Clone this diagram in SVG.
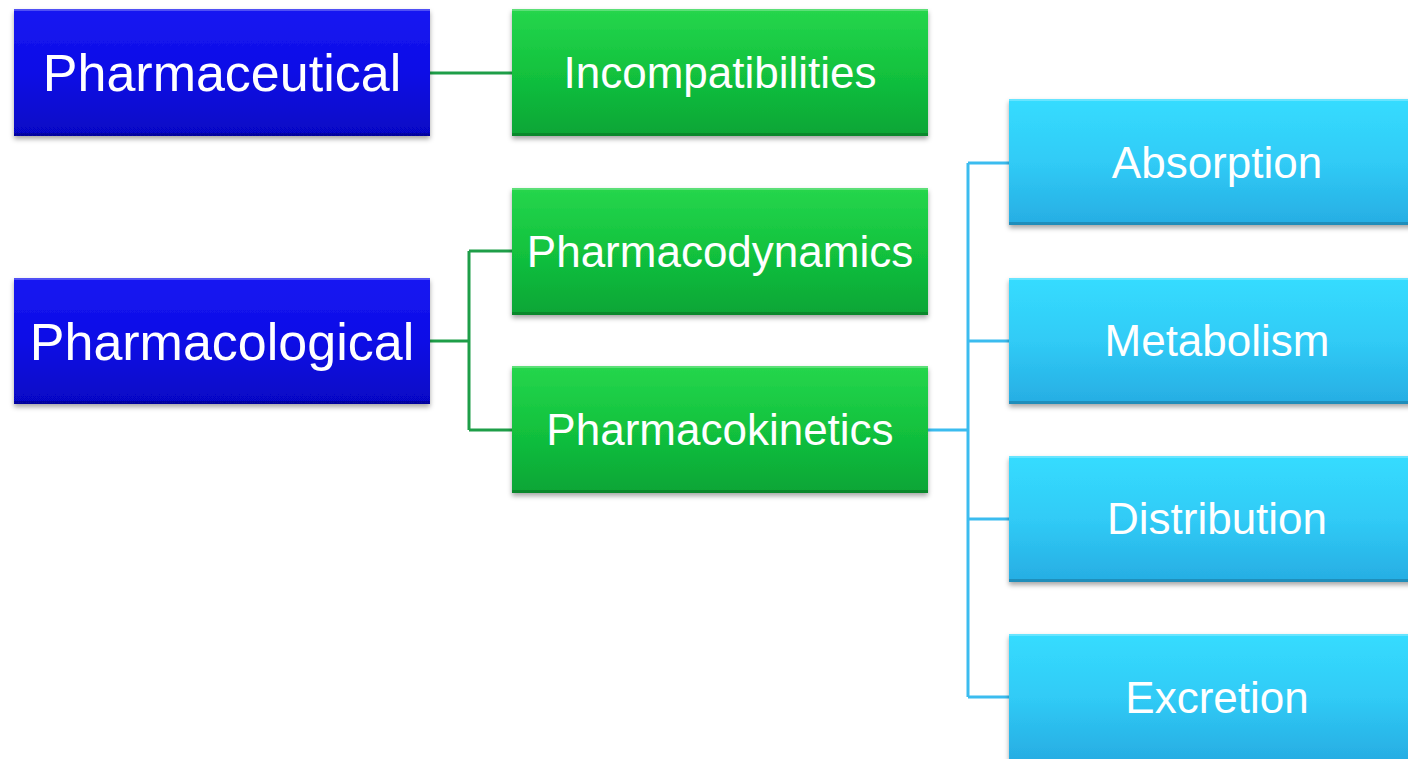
<svg xmlns="http://www.w3.org/2000/svg" width="1408" height="759" viewBox="0 0 1408 759">
<defs>
<linearGradient id="gBlue" x1="0" y1="0" x2="0" y2="1">
<stop offset="0" stop-color="#1818f2"/><stop offset="0.5" stop-color="#0c0ce6"/><stop offset="1" stop-color="#0606c4"/>
</linearGradient>
<linearGradient id="gGreen" x1="0" y1="0" x2="0" y2="1">
<stop offset="0" stop-color="#26d64c"/><stop offset="0.5" stop-color="#12c23e"/><stop offset="1" stop-color="#0aa536"/>
</linearGradient>
<linearGradient id="gCyan" x1="0" y1="0" x2="0" y2="1">
<stop offset="0" stop-color="#36dcff"/><stop offset="0.5" stop-color="#30cbf6"/><stop offset="1" stop-color="#27ade3"/>
</linearGradient>
<filter id="sh" x="-5%" y="-10%" width="110%" height="130%">
<feDropShadow dx="0" dy="3" stdDeviation="2.5" flood-color="#000" flood-opacity="0.35"/>
</filter>
</defs>
<style>
.t{font-family:"Liberation Sans",Arial,sans-serif;fill:#fff;text-anchor:middle}
.big{font-size:52px}
.mid{font-size:44px}
.blue{fill:url(#gBlue)}
.green{fill:url(#gGreen)}
.cyan{fill:url(#gCyan)}
.hl{fill:#fff;opacity:0.25}
.dk{fill:#000;opacity:0.18}
.cg{stroke:#1e9e48;stroke-width:3;fill:none}
.cb{stroke:#3bbcef;stroke-width:3;fill:none}
</style>
<rect width="1408" height="759" fill="#fff"/>
<g id="connectors">
<path class="cg" d="M430 73 H512"/>
<path class="cg" d="M430 341 H469 M469 251 V430 M469 251 H512 M469 430 H512"/>
<path class="cb" d="M928 430 H968 M968 163 V697 M968 163 H1009 M968 341 H1009 M968 519 H1009 M968 697 H1009"/>
</g>
<g id="pharmaceutical">
<rect class="blue" x="14" y="9" width="416" height="127" filter="url(#sh)"/>
<rect class="hl" x="14" y="9" width="416" height="2"/><rect class="dk" x="14" y="133" width="416" height="3"/>
<text class="t big" x="222" y="91">Pharmaceutical</text>
</g>
<g id="pharmacological">
<rect class="blue" x="14" y="278" width="416" height="126" filter="url(#sh)"/>
<rect class="hl" x="14" y="278" width="416" height="2"/><rect class="dk" x="14" y="401" width="416" height="3"/>
<text class="t big" x="222" y="360">Pharmacological</text>
</g>
<g id="incompatibilities">
<rect class="green" x="512" y="9" width="416" height="127" filter="url(#sh)"/>
<rect class="hl" x="512" y="9" width="416" height="2"/><rect class="dk" x="512" y="133" width="416" height="3"/>
<text class="t mid" x="720" y="88">Incompatibilities</text>
</g>
<g id="pharmacodynamics">
<rect class="green" x="512" y="188" width="416" height="127" filter="url(#sh)"/>
<rect class="hl" x="512" y="188" width="416" height="2"/><rect class="dk" x="512" y="312" width="416" height="3"/>
<text class="t mid" x="720" y="267">Pharmacodynamics</text>
</g>
<g id="pharmacokinetics">
<rect class="green" x="512" y="366" width="416" height="127" filter="url(#sh)"/>
<rect class="hl" x="512" y="366" width="416" height="2"/><rect class="dk" x="512" y="490" width="416" height="3"/>
<text class="t mid" x="720" y="445">Pharmacokinetics</text>
</g>
<g id="absorption">
<rect class="cyan" x="1009" y="99" width="416" height="126" filter="url(#sh)"/>
<rect class="hl" x="1009" y="99" width="416" height="2"/><rect class="dk" x="1009" y="222" width="416" height="3"/>
<text class="t mid" x="1217" y="178">Absorption</text>
</g>
<g id="metabolism">
<rect class="cyan" x="1009" y="278" width="416" height="126" filter="url(#sh)"/>
<rect class="hl" x="1009" y="278" width="416" height="2"/><rect class="dk" x="1009" y="401" width="416" height="3"/>
<text class="t mid" x="1217" y="356">Metabolism</text>
</g>
<g id="distribution">
<rect class="cyan" x="1009" y="456" width="416" height="126" filter="url(#sh)"/>
<rect class="hl" x="1009" y="456" width="416" height="2"/><rect class="dk" x="1009" y="579" width="416" height="3"/>
<text class="t mid" x="1217" y="534">Distribution</text>
</g>
<g id="excretion">
<rect class="cyan" x="1009" y="634" width="416" height="126" filter="url(#sh)"/>
<rect class="hl" x="1009" y="634" width="416" height="2"/>
<text class="t mid" x="1217" y="713">Excretion</text>
</g>
</svg>
